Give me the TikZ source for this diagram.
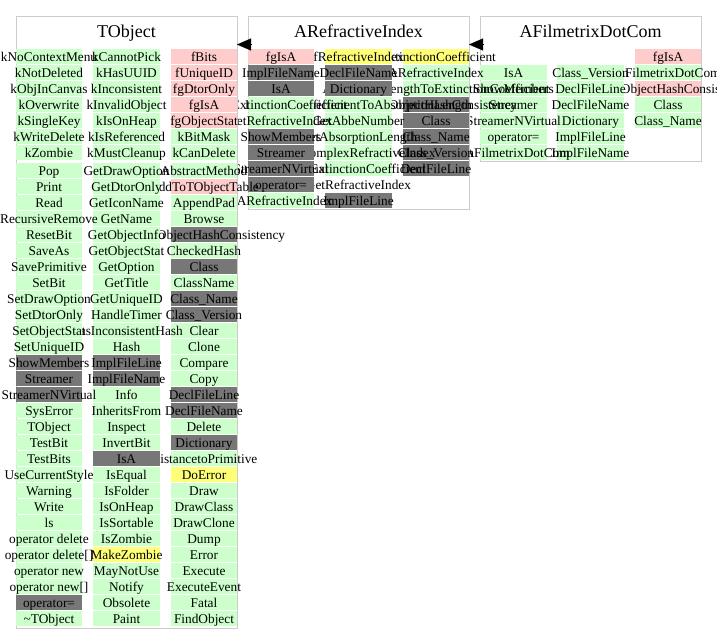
\documentclass[tikz,border=0pt]{standalone}
\usepackage{fontspec}
\setmainfont{Liberation Serif}
\usetikzlibrary{arrows.meta}
\definecolor{cg}{HTML}{CCFFCC}
\definecolor{cp}{HTML}{FFCCCC}
\definecolor{cy}{HTML}{FFFF77}
\definecolor{cd}{HTML}{777777}
\definecolor{frm}{HTML}{CCCCCC}
\tikzset{
 cellbg/.style={inner sep=0pt, outer sep=0pt, minimum width={66.5*0.75pt}, minimum height={14.5*0.75pt}},
 celltx/.style={inner sep=0pt, anchor=base, font=\fontsize{10pt}{12pt}\selectfont},
 classframe/.style={draw=frm, line width=1.1pt, inner sep=0pt, minimum width={221*0.75pt}, anchor=north west},
 titletx/.style={anchor=base, inner sep=0pt, font=\fontsize{13.5pt}{16pt}\selectfont},
 inh/.style={-{Triangle[length=10.5pt,width=9pt]}, line width=0.1pt}
}
\newcommand\cellat[5]{%
  \node[cellbg,fill=#4] (#1) at (#2,{#3}) {};
  \node[celltx] (#1t) at (#2,{#3+4.5}) {#5};}
\newcommand\classcol[4]{%
  \foreach \tx/\cl [count=\i from 0] in {#4} {\cellat{#1-\i}{#2}{#3+16*\i}{\cl}{\tx}}}
\begin{document}
\begin{tikzpicture}[x=0.75pt,y=-0.75pt]
\useasboundingbox (0,0) rectangle (717,643);
% ---------- AFilmetrixDotCom ----------
\node[classframe, minimum height={144.5*0.75pt}] (AFD) at (480,16) {};
\node[titletx] (AFDtitle) at (590.5,37) {AFilmetrixDotCom};
\classcol{AFD3}{668}{56.5}{fgIsA/cp, AFilmetrixDotCom/cg, CheckObjectHashConsistency/cp, Class/cg, Class\_Name/cg}
\classcol{AFD2}{590.5}{72.5}{Class\_Version/cg, DeclFileLine/cg, DeclFileName/cg, Dictionary/cg, ImplFileLine/cg, ImplFileName/cg}
\classcol{AFD1}{513.5}{72.5}{IsA/cg, ShowMembers/cg, Streamer/cg, StreamerNVirtual/cg, operator=/cg, \textasciitilde AFilmetrixDotCom/cg}
% ---------- ARefractiveIndex ----------
\node[classframe, minimum height={192.5*0.75pt}] (ARI) at (248,16) {};
\node[titletx] (ARItitle) at (358.5,37) {ARefractiveIndex};
\classcol{ARI3}{436}{56.5}{fExtinctionCoefficient/cy, ARefractiveIndex/cg, AbsorptionLengthToExtinctionCoefficient/cg, CheckObjectHashConsistency/cd, Class/cd, Class\_Name/cd, Class\_Version/cd, DeclFileLine/cd}
\classcol{ARI2}{358.5}{56.5}{fRefractiveIndex/cy, DeclFileName/cd, Dictionary/cd, ExtinctionCoefficientToAbsorptionLength/cg, GetAbbeNumber/cg, GetAbsorptionLength/cg, GetComplexRefractiveIndex/cg, GetExtinctionCoefficient/cg, GetRefractiveIndex/white, ImplFileLine/cd}
\classcol{ARI1}{281}{56.5}{fgIsA/cp, ImplFileName/cd, IsA/cd, SetExtinctionCoefficient/cg, SetRefractiveIndex/cg, ShowMembers/cd, Streamer/cd, StreamerNVirtual/cd, operator=/cd, \textasciitilde ARefractiveIndex/cg}
% ---------- TObject ----------
\node[classframe, minimum height={611.5*0.75pt}] (TObject) at (16,16) {};
\node[titletx] (TOtitle) at (126.5,37) {TObject};
\classcol{TOd3}{204}{56.5}{fBits/cp, fUniqueID/cp, fgDtorOnly/cp, fgIsA/cp, fgObjectStat/cp, kBitMask/cg, kCanDelete/cg}
\classcol{TOm3}{204}{170.5}{AbstractMethod/cg, AddToTObjectTable/cp, AppendPad/cg, Browse/cg, CheckObjectHashConsistency/cd, CheckedHash/cg, Class/cd, ClassName/cg, Class\_Name/cd, Class\_Version/cd, Clear/cg, Clone/cg, Compare/cg, Copy/cg, DeclFileLine/cd, DeclFileName/cd, Delete/cg, Dictionary/cd, DistancetoPrimitive/cg, DoError/cy, Draw/cg, DrawClass/cg, DrawClone/cg, Dump/cg, Error/cg, Execute/cg, ExecuteEvent/cg, Fatal/cg, FindObject/cg}
\classcol{TOd2}{126.5}{56.5}{kCannotPick/cg, kHasUUID/cg, kInconsistent/cg, kInvalidObject/cg, kIsOnHeap/cg, kIsReferenced/cg, kMustCleanup/cg}
\classcol{TOm2}{126.5}{170.5}{GetDrawOption/cg, GetDtorOnly/cg, GetIconName/cg, GetName/cg, GetObjectInfo/cg, GetObjectStat/cg, GetOption/cg, GetTitle/cg, GetUniqueID/cg, HandleTimer/cg, HasInconsistentHash/cg, Hash/cg, ImplFileLine/cd, ImplFileName/cd, Info/cg, InheritsFrom/cg, Inspect/cg, InvertBit/cg, IsA/cd, IsEqual/cg, IsFolder/cg, IsOnHeap/cg, IsSortable/cg, IsZombie/cg, MakeZombie/cy, MayNotUse/cg, Notify/cg, Obsolete/cg, Paint/cg}
\classcol{TOd1}{49}{56.5}{kNoContextMenu/cg, kNotDeleted/cg, kObjInCanvas/cg, kOverwrite/cg, kSingleKey/cg, kWriteDelete/cg, kZombie/cg}
\classcol{TOm1}{49}{170.5}{Pop/cg, Print/cg, Read/cg, RecursiveRemove/cg, ResetBit/cg, SaveAs/cg, SavePrimitive/cg, SetBit/cg, SetDrawOption/cg, SetDtorOnly/cg, SetObjectStat/cg, SetUniqueID/cg, ShowMembers/cd, Streamer/cd, StreamerNVirtual/cd, SysError/cg, TObject/cg, TestBit/cg, TestBits/cg, UseCurrentStyle/cg, Warning/cg, Write/cg, ls/cg, operator delete/cg, operator delete[]/cg, operator new/cg, operator new[]/cg, operator=/cd, \textasciitilde TObject/cg}
% ---------- inheritance markers ----------
\coordinate (TOtip) at (237,44.5);
\coordinate (ARIfoot) at (251,44.5);
\draw[inh] (ARIfoot) -- (TOtip);
\coordinate (ARItip) at (469,44.5);
\coordinate (AFDfoot) at (483,44.5);
\draw[inh] (AFDfoot) -- (ARItip);
\end{tikzpicture}
\end{document}
